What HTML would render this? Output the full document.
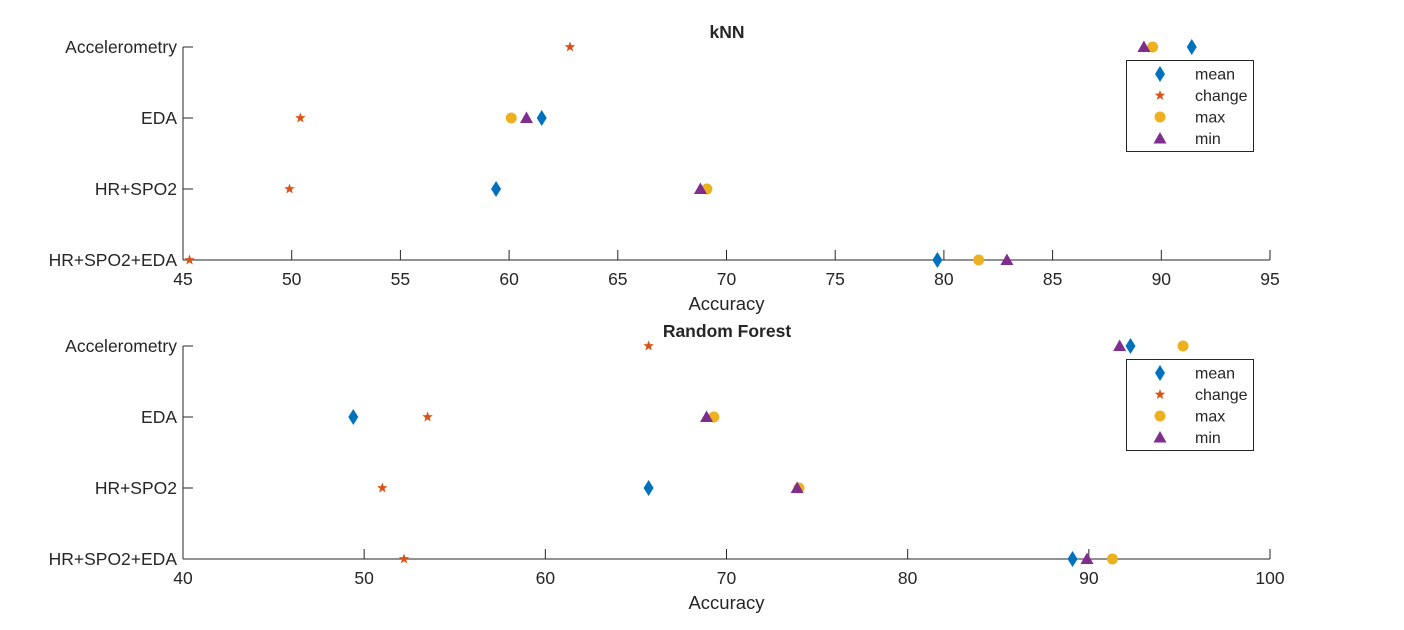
<!DOCTYPE html>
<html><head><meta charset="utf-8"><style>
html,body{margin:0;padding:0;background:#fff;width:1404px;height:630px;overflow:hidden}
text{font-family:"Liberation Sans",sans-serif;fill:#262626}
</style></head><body>
<svg id="chart" width="1404" height="630" xmlns="http://www.w3.org/2000/svg"></svg>
<script>
const categories = ["Accelerometry","EDA","HR+SPO2","HR+SPO2+EDA"];
const seriesNames = ["mean","change","max","min"];
const knnMean = [91.4, 61.5, 59.4, 79.7];
const knnChange = [62.8, 50.4, 49.9, 45.3];
const knnMax = [89.6, 60.1, 69.1, 81.6];
const knnMin = [89.2, 60.8, 68.8, 82.9];
const rfMean = [92.3, 49.4, 65.7, 89.1];
const rfChange = [65.7, 53.5, 51.0, 52.2];
const rfMax = [95.2, 69.3, 74.0, 91.3];
const rfMin = [91.7, 68.9, 73.9, 89.9];
const knnTicks = [45,50,55,60,65,70,75,80,85,90,95];
const rfTicks = [40,50,60,70,80,90,100];

const NS="http://www.w3.org/2000/svg";
const svg=document.getElementById('chart');
const colors=["#0072BD","#D95319","#EDB120","#7E2F8E"];
function mk(tag,attrs,parent){const e=document.createElementNS(NS,tag);for(const k in attrs)e.setAttribute(k,attrs[k]);(parent||svg).appendChild(e);return e;}
function marker(g,type,x,y,c){
  let e;
  if(type===0) e=mk('polygon',{points:`${x},${y-8} ${x+5},${y} ${x},${y+8} ${x-5},${y}`,fill:c},g);
  else if(type===1){let p=[];for(let i=0;i<10;i++){const r=i%2?2.3:5.5;const a=-Math.PI/2+i*Math.PI/5;p.push((x+r*Math.cos(a)).toFixed(2)+','+(y+r*Math.sin(a)).toFixed(2));}e=mk('polygon',{points:p.join(' '),fill:c},g);}
  else if(type===2) e=mk('circle',{cx:x,cy:y,r:5.5,fill:c},g);
  else e=mk('polygon',{points:`${x},${y-6.5} ${x+6.5},${y+5} ${x-6.5},${y+5}`,fill:c},g);
  return e;
}
function panel(name,title,yTop,xmin,xmax,ticks,series){
  const g=mk('g',{});
  
  
  const x0=183,x1=1270,yB=yTop+213;
  const sx=v=>x0+(v-xmin)/(xmax-xmin)*(x1-x0);
  const sy=i=>yTop+i*71;
  const ya=mk('line',{x1:x0,y1:yTop,x2:x0,y2:yB,stroke:'#262626','stroke-width':1},g);
  
  const xa=mk('line',{x1:x0,y1:yB,x2:x1,y2:yB,stroke:'#262626','stroke-width':1},g);
  
  categories.forEach((c,i)=>{
    mk('line',{x1:x0,y1:sy(i),x2:x0+10,y2:sy(i),stroke:'#262626'},g);
    const t=mk('text',{x:x0-6,y:sy(i)+6,'text-anchor':'end','font-size':17.5},g);t.textContent=c;
    
  });
  ticks.forEach(v=>{
    mk('line',{x1:sx(v),y1:yB,x2:sx(v),y2:yB-10,stroke:'#262626'},g);
    const t=mk('text',{x:sx(v),y:yB+25,'text-anchor':'middle','font-size':17.5},g);t.textContent=v;
    
  });
  const xt=mk('text',{x:(x0+x1)/2,y:yB+50,'text-anchor':'middle','font-size':18.5},g);xt.textContent='Accuracy';
  
  const tt=mk('text',{x:727,y:yTop-9,'text-anchor':'middle','font-size':17.5,'font-weight':'bold',fill:'#000'},g);tt.textContent=title;
  
  series.forEach((arr,s)=>arr.forEach((v,i)=>{
    const m=marker(g,s,sx(v),sy(i),colors[s]);
    
    
  }));
  const lg=mk('g',{},g);
  
  
  const ly=yTop+13;
  mk('rect',{x:1126.5,y:ly+0.5,width:127,height:91,fill:'#fff',stroke:'#262626'},lg);
  seriesNames.forEach((n,s)=>{
    const yy=ly+14+s*21.5;
    marker(lg,s,1160,yy,colors[s]);
    const t=mk('text',{x:1195,y:yy+5.5,'font-size':16},lg);t.textContent=n;
    
  });
}
panel('knn-panel','kNN',47,45,95,knnTicks,[knnMean,knnChange,knnMax,knnMin]);
panel('rf-panel','Random Forest',346,40,100,rfTicks,[rfMean,rfChange,rfMax,rfMin]);
</script>
</body></html>
